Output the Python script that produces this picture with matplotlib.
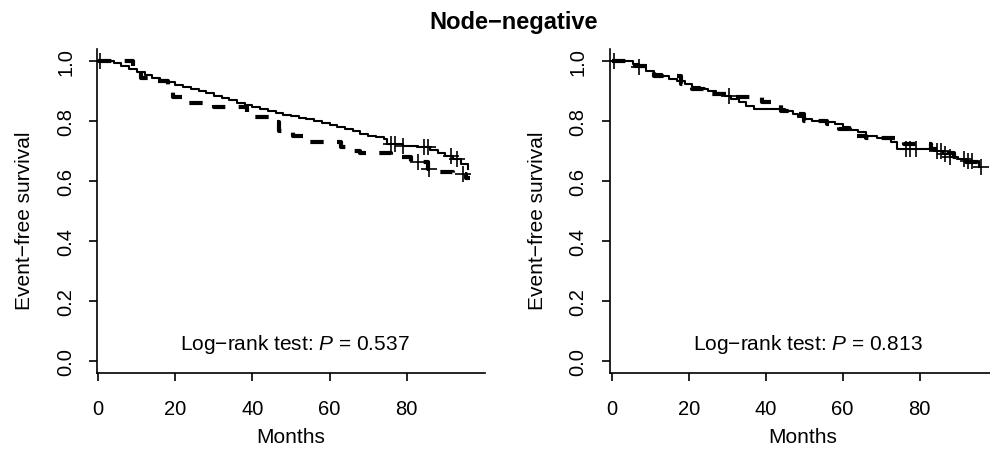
import numpy as np
import matplotlib
matplotlib.use("Agg")
import matplotlib.pyplot as plt

plt.rcParams['font.family'] = ['Liberation Sans', 'DejaVu Sans']
plt.rcParams['mathtext.fontset'] = 'custom'
plt.rcParams['mathtext.it'] = 'Liberation Sans:italic'
plt.rcParams['mathtext.rm'] = 'Liberation Sans'

TITLE = "Node\u2212negative"
YLABEL = "Event\u2212free survival"
XLABEL = "Months"
XTICKS = [0, 20, 40, 60, 80]
YTICKS = [0.0, 0.2, 0.4, 0.6, 0.8, 1.0]
PVALUES = ["0.537", "0.813"]

# left panel, solid curve (months, survival)
left_solid_t = [0, 4, 6, 8, 10, 12, 14, 16, 18, 20, 22, 24, 26, 28, 30, 32, 34, 36, 38, 40,
                42, 44, 46, 48, 50, 52, 54, 56, 58, 60, 62, 64, 66, 68, 70, 72, 74, 75, 79,
                83, 86, 88, 90, 92, 94, 96]
left_solid_s = [1.0, 0.994, 0.983, 0.972, 0.961, 0.952, 0.944, 0.936, 0.928, 0.92, 0.914,
                0.906, 0.9, 0.892, 0.884, 0.876, 0.868, 0.86, 0.853, 0.847, 0.84, 0.834,
                0.826, 0.82, 0.815, 0.81, 0.806, 0.8, 0.792, 0.786, 0.778, 0.771, 0.764,
                0.757, 0.75, 0.746, 0.738, 0.724, 0.717, 0.711, 0.703, 0.694, 0.683, 0.672,
                0.656, 0.64]
left_solid_cens = [0.5, 76, 77, 79, 84.5, 85.5, 91.5, 93]

# left panel, dashed curve
left_dash_t = [0, 9, 11, 14, 18, 19.5, 22, 30, 38.5, 40.5, 45, 47, 50.5, 54, 63, 65.5, 68,
               76, 81, 85.5, 87.5, 92, 95.5, 96.5]
left_dash_s = [1.0, 0.972, 0.944, 0.933, 0.906, 0.878, 0.859, 0.847, 0.822, 0.811, 0.795,
               0.767, 0.75, 0.728, 0.711, 0.70, 0.694, 0.678, 0.661, 0.639, 0.628, 0.622,
               0.61, 0.61]
left_dash_cens = [82.8, 85.8, 94.5]

# right panel, solid curve
right_solid_t = [0, 5.5, 7, 9, 11, 13, 15, 17, 19, 21, 23, 25, 27, 29.5, 31, 33, 35, 37,
                 45, 47, 48.5, 50, 52, 55, 58, 60, 62, 64, 66, 69, 71, 72.5, 74, 84, 86,
                 88, 90, 92, 94, 95.5]
right_solid_s = [1.0, 0.989, 0.978, 0.967, 0.956, 0.95, 0.939, 0.933, 0.922, 0.911, 0.906,
                 0.9, 0.894, 0.883, 0.872, 0.861, 0.85, 0.839, 0.833, 0.822, 0.811, 0.806,
                 0.8, 0.794, 0.789, 0.778, 0.769, 0.761, 0.75, 0.744, 0.739, 0.728, 0.706,
                 0.7, 0.689, 0.678, 0.672, 0.667, 0.661, 0.645]
right_solid_cens = [0.5, 7, 30.5, 76.5, 77.5, 79, 84.5, 85.5, 86.5, 88, 91.5, 92.5, 93.5, 96]

# right panel, dashed curve
right_dash_t = [0, 6, 11, 18, 21, 24, 30, 39, 44, 47, 50, 56, 59, 62, 66, 76, 83, 86, 89,
                92, 95.5]
right_dash_s = [1.0, 0.983, 0.95, 0.922, 0.906, 0.889, 0.878, 0.861, 0.833, 0.822, 0.8,
                0.789, 0.772, 0.75, 0.744, 0.722, 0.706, 0.694, 0.678, 0.661, 0.625]

W, H = 990, 452


def px_axes(left, right, top, bottom):
    return [left / W, 1 - bottom / H, (right - left) / W, (bottom - top) / H]


def surv_at(t, s, times):
    idx = np.searchsorted(t, times, side="right") - 1
    return np.asarray(s)[idx]


def draw_panel(ax, solid, dashed, cens_solid, cens_dash, pval, xmax, xmin):
    ax.plot(solid[0], solid[1], drawstyle="steps-post", color="black", lw=1.5)
    ax.plot(dashed[0], dashed[1], drawstyle="steps-post", color="black", lw=3.0,
            linestyle=(0, (3.2, 3.2)), dash_capstyle="butt")
    ax.plot(cens_solid, surv_at(solid[0], solid[1], cens_solid), linestyle="none",
            marker="+", ms=12, mew=1.2, color="black")
    if cens_dash:
        ax.plot(cens_dash, surv_at(dashed[0], dashed[1], cens_dash), linestyle="none",
                marker="+", ms=12, mew=1.2, color="black")

    ax.set_xlim(xmin, xmax)
    ax.set_ylim(-0.041, 1.04)
    ax.spines["top"].set_visible(False)
    ax.spines["right"].set_visible(False)
    for sp in ("left", "bottom"):
        ax.spines[sp].set_linewidth(1.2)
    ax.set_xticks(XTICKS)
    ax.set_yticks(YTICKS)
    ax.set_yticklabels([f"{v:.1f}" for v in YTICKS], rotation=90, va="center")
    ax.tick_params(axis="both", direction="out", length=6, width=1.2, labelsize=14.5)
    ax.tick_params(axis="x", pad=13)
    ax.tick_params(axis="y", pad=10)
    ax.text(51, 0.056, "Log\u2212rank test: $P$ = " + pval, ha="center", va="center",
            fontsize=15)


fig = plt.figure(figsize=(W / 100, H / 100), dpi=100)

ax1 = fig.add_axes(px_axes(97.3, 485, 49.7, 374))
draw_panel(ax1, (left_solid_t, left_solid_s), (left_dash_t, left_dash_s),
           left_solid_cens, left_dash_cens, PVALUES[0], 100.3, -0.25)

ax2 = fig.add_axes(px_axes(609.7, 994, 49.7, 374))
draw_panel(ax2, (right_solid_t, right_solid_s), (right_dash_t, right_dash_s),
           right_solid_cens, [], PVALUES[1], 99.3, -0.5)

for xc in (291, 803):
    fig.text(xc / W, 1 - 438 / H, XLABEL, ha="center", va="center", fontsize=15)
for xc in (25, 537.4):
    fig.text(xc / W, 1 - 221 / H, YLABEL, ha="center", va="center", rotation=90,
             fontsize=15)

fig.text(514 / W, 1 - 22 / H, TITLE, ha="center", va="center", fontsize=17,
         fontweight="bold")

fig.savefig("out.png", dpi=100)
